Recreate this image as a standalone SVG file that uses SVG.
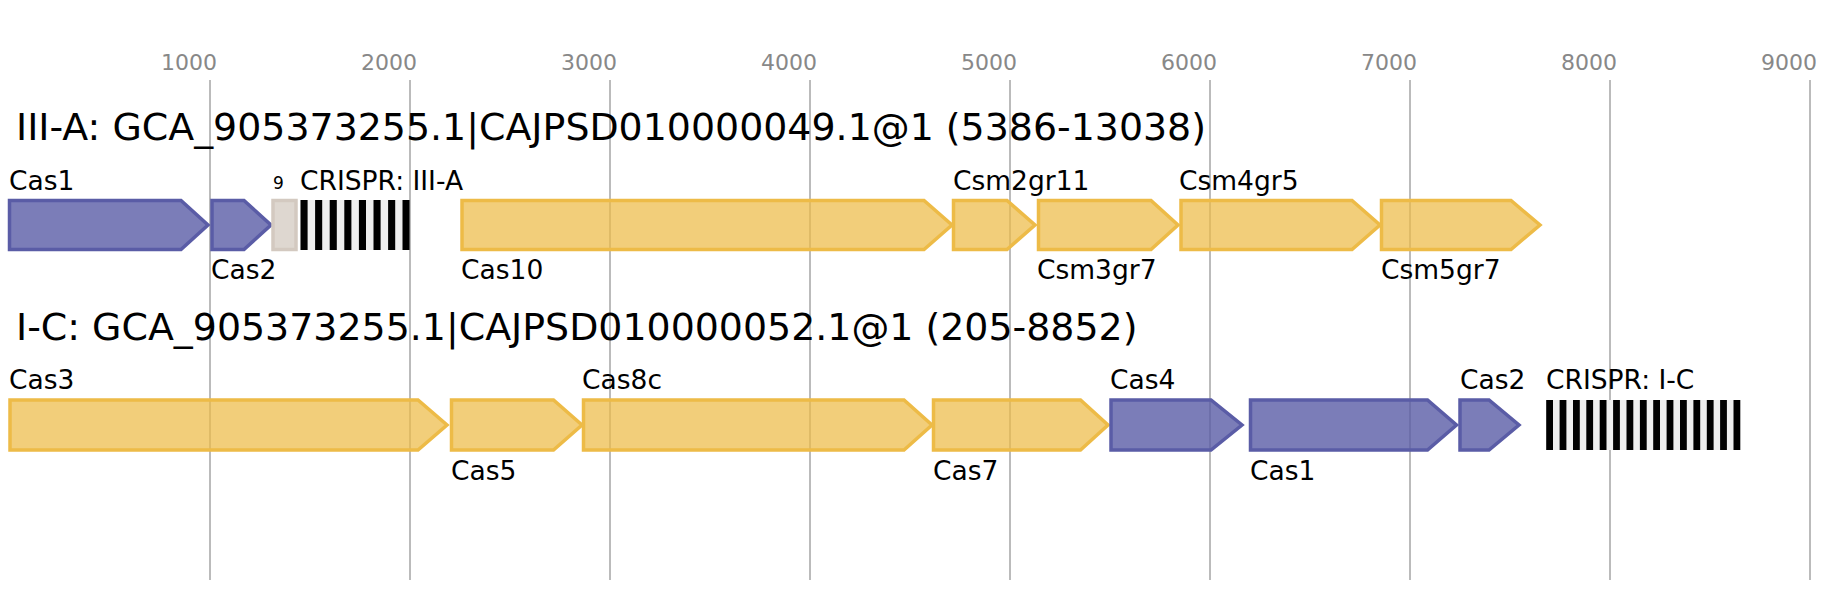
<svg xmlns="http://www.w3.org/2000/svg" width="1829" height="600" viewBox="0 0 1829 600">
<style>
.grid{stroke:#bbbbbb;stroke-width:2}
.tick{font-family:"DejaVu Sans",sans-serif;font-size:22px;fill:#888888;text-anchor:end}
.title{font-family:"DejaVu Sans",sans-serif;font-size:37.9px;fill:#000}
.lbl{font-family:"DejaVu Sans",sans-serif;font-size:26.5px;fill:#000}
.small{font-family:"DejaVu Sans",sans-serif;font-size:17px;fill:#000}
.y{fill:#edbb47;fill-opacity:0.72;stroke:#edbb47;stroke-width:3.5}
.p{fill:#5a5ca6;fill-opacity:0.8;stroke:#5a5ca6;stroke-width:3.5}
.rep{fill:#d3c9c0;fill-opacity:0.75;stroke:#d3c9c0;stroke-width:3.5}
.bg{fill:#eeeeee}
.bk{fill:#000}
</style>
<rect width="1829" height="600" fill="#ffffff"/>
<g id="axis">
<line class="grid" x1="210" y1="80" x2="210" y2="580"/>
<line class="grid" x1="410" y1="80" x2="410" y2="580"/>
<line class="grid" x1="610" y1="80" x2="610" y2="580"/>
<line class="grid" x1="810" y1="80" x2="810" y2="580"/>
<line class="grid" x1="1010" y1="80" x2="1010" y2="580"/>
<line class="grid" x1="1210" y1="80" x2="1210" y2="580"/>
<line class="grid" x1="1410" y1="80" x2="1410" y2="580"/>
<line class="grid" x1="1610" y1="80" x2="1610" y2="580"/>
<line class="grid" x1="1810" y1="80" x2="1810" y2="580"/>
<text class="tick" x="217" y="70">1000</text>
<text class="tick" x="417" y="70">2000</text>
<text class="tick" x="617" y="70">3000</text>
<text class="tick" x="817" y="70">4000</text>
<text class="tick" x="1017" y="70">5000</text>
<text class="tick" x="1217" y="70">6000</text>
<text class="tick" x="1417" y="70">7000</text>
<text class="tick" x="1617" y="70">8000</text>
<text class="tick" x="1817" y="70">9000</text>
</g>
<g id="connectors"></g>
<g id="locus1">
<text class="title" x="16" y="140">III-A: GCA_905373255.1|CAJPSD010000049.1@1 (5386-13038)</text>
<g id="l1_cas1"><polygon class="p" points="9.5,200.5 181,200.5 208,225 181,249.5 9.5,249.5"/><text class="lbl" x="9" y="190">Cas1</text></g>
<g id="l1_cas2"><polygon class="p" points="212,200.5 244,200.5 271,225 244,249.5 212,249.5"/><text class="lbl" x="211" y="279">Cas2</text></g>
<g id="l1_rep"><rect class="rep" x="273" y="200.5" width="23" height="49"/><text class="small" x="273" y="189">9</text></g>
<g id="l1_crispr">
<rect class="bg" x="300.5" y="200" width="109" height="50"/>
<rect class="bk" x="300.5" y="200" width="7.1" height="50"/>
<rect class="bk" x="315.1" y="200" width="7.1" height="50"/>
<rect class="bk" x="329.7" y="200" width="7.1" height="50"/>
<rect class="bk" x="344.3" y="200" width="7.1" height="50"/>
<rect class="bk" x="358.9" y="200" width="7.1" height="50"/>
<rect class="bk" x="373.5" y="200" width="7.1" height="50"/>
<rect class="bk" x="388.1" y="200" width="7.1" height="50"/>
<rect class="bk" x="402.5" y="200" width="7.1" height="50"/>
<text class="lbl" x="300" y="190">CRISPR: III-A</text>
</g>
<g id="l1_cas10"><polygon class="y" points="462,200.5 924,200.5 952,225 924,249.5 462,249.5"/><text class="lbl" x="461" y="279">Cas10</text></g>
<g id="l1_csm2"><polygon class="y" points="953.5,200.5 1007,200.5 1035,225 1007,249.5 953.5,249.5"/><text class="lbl" x="953" y="190">Csm2gr11</text></g>
<g id="l1_csm3"><polygon class="y" points="1038.5,200.5 1151,200.5 1178,225 1151,249.5 1038.5,249.5"/><text class="lbl" x="1037" y="279">Csm3gr7</text></g>
<g id="l1_csm4"><polygon class="y" points="1181,200.5 1352,200.5 1380,225 1352,249.5 1181,249.5"/><text class="lbl" x="1179" y="190">Csm4gr5</text></g>
<g id="l1_csm5"><polygon class="y" points="1381.5,200.5 1511,200.5 1540,225 1511,249.5 1381.5,249.5"/><text class="lbl" x="1381" y="279">Csm5gr7</text></g>
</g>
<g id="locus2">
<text class="title" x="16" y="340">I-C: GCA_905373255.1|CAJPSD010000052.1@1 (205-8852)</text>
<g id="l2_cas3"><polygon class="y" points="10,400 418,400 447,425 418,450 10,450"/><text class="lbl" x="9" y="389">Cas3</text></g>
<g id="l2_cas5"><polygon class="y" points="451.5,400 553.5,400 582,425 553.5,450 451.5,450"/><text class="lbl" x="451" y="480">Cas5</text></g>
<g id="l2_cas8c"><polygon class="y" points="583.5,400 904,400 932,425 904,450 583.5,450"/><text class="lbl" x="582" y="389">Cas8c</text></g>
<g id="l2_cas7"><polygon class="y" points="933.5,400 1080.5,400 1108,425 1080.5,450 933.5,450"/><text class="lbl" x="933" y="480">Cas7</text></g>
<g id="l2_cas4"><polygon class="p" points="1111,400 1211,400 1242,425 1211,450 1111,450"/><text class="lbl" x="1110" y="389">Cas4</text></g>
<g id="l2_cas1"><polygon class="p" points="1250.5,400 1427.5,400 1456.5,425 1427.5,450 1250.5,450"/><text class="lbl" x="1250" y="480">Cas1</text></g>
<g id="l2_cas2"><polygon class="p" points="1460,400 1489,400 1519,425 1489,450 1460,450"/><text class="lbl" x="1460" y="389">Cas2</text></g>
<g id="l2_crispr">
<rect class="bg" x="1546.2" y="400" width="194" height="50"/>
<rect class="bk" x="1546.2" y="400" width="6.8" height="50"/>
<rect class="bk" x="1559.6" y="400" width="6.8" height="50"/>
<rect class="bk" x="1573.0" y="400" width="6.8" height="50"/>
<rect class="bk" x="1586.3" y="400" width="6.8" height="50"/>
<rect class="bk" x="1599.7" y="400" width="6.8" height="50"/>
<rect class="bk" x="1613.1" y="400" width="6.8" height="50"/>
<rect class="bk" x="1626.5" y="400" width="6.8" height="50"/>
<rect class="bk" x="1639.9" y="400" width="6.8" height="50"/>
<rect class="bk" x="1653.2" y="400" width="6.8" height="50"/>
<rect class="bk" x="1666.6" y="400" width="6.8" height="50"/>
<rect class="bk" x="1680.0" y="400" width="6.8" height="50"/>
<rect class="bk" x="1693.4" y="400" width="6.8" height="50"/>
<rect class="bk" x="1706.8" y="400" width="6.8" height="50"/>
<rect class="bk" x="1720.1" y="400" width="6.8" height="50"/>
<rect class="bk" x="1733.5" y="400" width="6.8" height="50"/>
<text class="lbl" x="1546" y="389">CRISPR: I-C</text>
</g>
</g>
</svg>
